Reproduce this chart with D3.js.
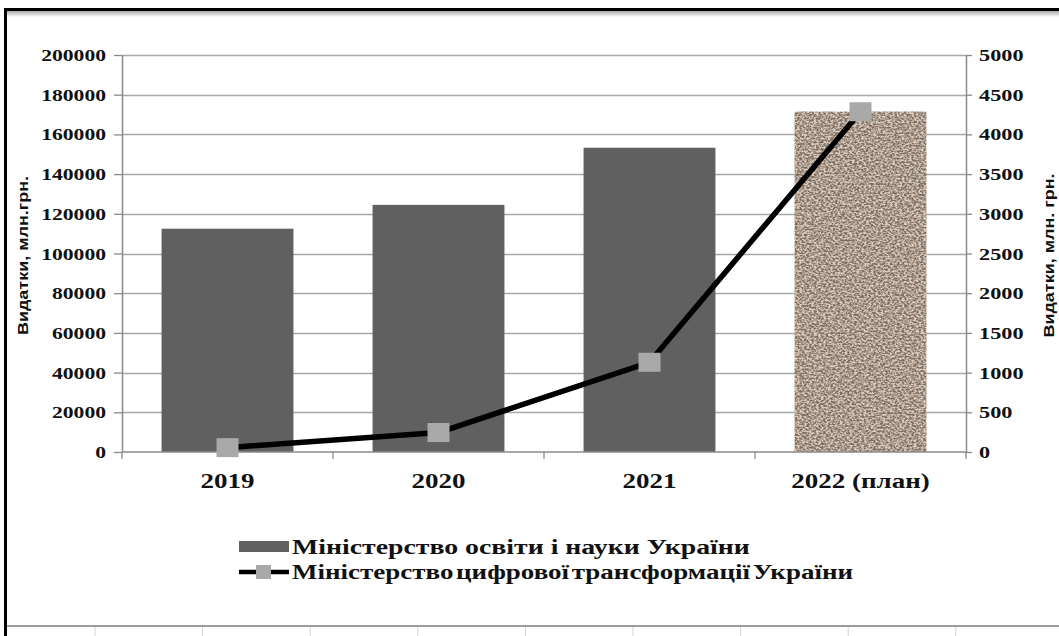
<!DOCTYPE html>
<html>
<head>
<meta charset="utf-8">
<script src="https://cdn.jsdelivr.net/npm/d3@7/dist/d3.min.js"></script>
<style>
  html, body { margin: 0; padding: 0; background: #fff; }
  svg { display: block; }
</style>
</head>
<body>
<svg id="chart" width="1059" height="636"></svg>
<script>
// ---------- data ----------
const categories = ["2019", "2020", "2021", "2022 (план)"];
const educationValues = [112500, 124500, 153300, 171500];   // left axis, bars
const digitalValues = [55, 245, 1130, 4285];                // right axis, line
const leftTicks = [0, 20000, 40000, 60000, 80000, 100000, 120000, 140000, 160000, 180000, 200000];
const rightTicks = [0, 500, 1000, 1500, 2000, 2500, 3000, 3500, 4000, 4500, 5000];
const seriesNames = ["Міністерство освіти і науки України", "Міністерство цифрової трансформації України"];
const leftTitle = "Видатки, млн.грн.";
const rightTitle = "Видатки, млн. грн.";

// ---------- layout ----------
const W = 1059, H = 636;
const plot = { left: 122, right: 966, top: 55, bottom: 452 };
const SX = 1.35;  // horizontal stretch of the text in the reference
const serif = "'Liberation Serif', 'Times New Roman', serif";
const sans = "'Liberation Sans', Arial, sans-serif";
const axisColor = "#8a8a8a", gridColor = "#a8a8a8";

const svg = d3.select("#chart");
const defs = svg.append("defs");

// granite texture for the planned bar
const f = defs.append("filter").attr("id", "granite")
  .attr("x", 0).attr("y", 0).attr("width", 1).attr("height", 1)
  .attr("color-interpolation-filters", "sRGB");
f.append("feTurbulence").attr("type", "fractalNoise")
  .attr("baseFrequency", "0.42 0.55").attr("numOctaves", 2).attr("seed", 7).attr("result", "n");
const ct = f.append("feComponentTransfer").attr("in", "n").attr("result", "c");
ct.append("feFuncR").attr("type", "linear").attr("slope", 3.0).attr("intercept", -1.0);
f.append("feColorMatrix").attr("in", "c").attr("type", "matrix")
  .attr("values", "0.40 0 0 0 0.47  0.38 0 0 0 0.42  0.36 0 0 0 0.38  0 0 0 0 1").attr("result", "col");
f.append("feComposite").attr("in", "col").attr("in2", "SourceGraphic").attr("operator", "in");

const shadow = defs.append("linearGradient").attr("id", "shadow").attr("x1", 0).attr("y1", 0).attr("x2", 0).attr("y2", 1);
shadow.append("stop").attr("offset", "0%").attr("stop-color", "#a8a8a8");
shadow.append("stop").attr("offset", "100%").attr("stop-color", "#ffffff");

// ---------- frame ----------
svg.append("rect").attr("x", 4).attr("y", 11).attr("width", W - 4).attr("height", 6).attr("fill", "url(#shadow)");
svg.append("rect").attr("x", 4).attr("y", 8).attr("width", W - 4).attr("height", 3).attr("fill", "#000");
svg.append("rect").attr("x", 4).attr("y", 8).attr("width", 3).attr("height", H - 8).attr("fill", "#000");
svg.append("rect").attr("x", 7).attr("y", 625).attr("width", W - 7).attr("height", 2).attr("fill", "#9c9c9c");
const cells = d3.range(95, W, 107.6);
svg.selectAll("line.cell").data(cells).join("line").attr("class", "cell")
  .attr("x1", d => d).attr("x2", d => d).attr("y1", 627).attr("y2", H)
  .attr("stroke", "#d2d2d2").attr("stroke-width", 1);

// ---------- scales ----------
const x = d3.scaleBand().domain(categories).range([plot.left, plot.right])
  .paddingInner(0.375).paddingOuter(0.1875);
const yL = d3.scaleLinear().domain([0, 200000]).range([plot.bottom, plot.top]);
const yR = d3.scaleLinear().domain([0, 5000]).range([plot.bottom, plot.top]);

// ---------- gridlines ----------
svg.append("g").selectAll("line").data(leftTicks.filter(d => d > 0)).join("line")
  .attr("x1", plot.left).attr("x2", plot.right)
  .attr("y1", d => Math.round(yL(d)) + 0.5).attr("y2", d => Math.round(yL(d)) + 0.5)
  .attr("stroke", gridColor).attr("stroke-width", 1.3);

// ---------- bars ----------
svg.append("g").selectAll("rect").data(categories).join("rect")
  .attr("x", d => x(d)).attr("width", x.bandwidth())
  .attr("y", (d, i) => yL(educationValues[i]))
  .attr("height", (d, i) => plot.bottom - yL(educationValues[i]))
  .attr("fill", (d, i) => i === categories.length - 1 ? "#a89a8e" : "#606060")
  .attr("filter", (d, i) => i === categories.length - 1 ? "url(#granite)" : null);

// ---------- axes ----------
function styleAxis(g) {
  g.select(".domain").attr("stroke", axisColor).attr("stroke-width", 1.5);
  g.selectAll(".tick line").attr("stroke", axisColor).attr("stroke-width", 1.3);
}
const axL = svg.append("g").attr("transform", `translate(${plot.left},0)`)
  .call(d3.axisLeft(yL).tickValues(leftTicks).tickSize(8).tickSizeOuter(0).tickFormat(d => d));
styleAxis(axL);
axL.selectAll(".tick text").attr("x", null).attr("dy", null)
  .attr("transform", `translate(-16,5.5) scale(${SX},1)`)
  .attr("text-anchor", "end").attr("font-family", serif).attr("font-weight", "bold")
  .attr("font-size", 16).attr("fill", "#111");

const axR = svg.append("g").attr("transform", `translate(${plot.right},0)`)
  .call(d3.axisRight(yR).tickValues(rightTicks).tickSize(6).tickSizeOuter(0).tickFormat(d => d));
styleAxis(axR);
axR.selectAll(".tick text").attr("x", null).attr("dy", null)
  .attr("transform", `translate(13,5.5) scale(${SX},1)`)
  .attr("text-anchor", "start").attr("font-family", serif).attr("font-weight", "bold")
  .attr("font-size", 16.5).attr("fill", "#111");

// x axis
const gap = x.step() - x.bandwidth();
const bounds = categories.map(c => x(c) - gap / 2).concat([x(categories[categories.length - 1]) + x.bandwidth() + gap / 2]);
svg.append("line").attr("x1", plot.left).attr("x2", plot.right)
  .attr("y1", plot.bottom).attr("y2", plot.bottom).attr("stroke", axisColor).attr("stroke-width", 1.5);
svg.append("g").selectAll("line").data(bounds).join("line")
  .attr("x1", d => d).attr("x2", d => d).attr("y1", plot.bottom).attr("y2", plot.bottom + 7)
  .attr("stroke", axisColor).attr("stroke-width", 1.3);
svg.append("g").selectAll("text").data(categories).join("text")
  .attr("transform", d => `translate(${x(d) + x.bandwidth() / 2},488) scale(${SX},1)`)
  .attr("text-anchor", "middle").attr("font-family", serif).attr("font-weight", "bold")
  .attr("font-size", 20).attr("fill", "#111").text(d => d);

// ---------- line series ----------
const cx = d => x(d) + x.bandwidth() / 2;
const lineGen = d3.line().x(d => cx(d.c)).y(d => yR(d.v)).curve(d3.curveLinear);
const pts = categories.map((c, i) => ({ c, v: digitalValues[i] }));
svg.append("path").datum(pts).attr("d", lineGen)
  .attr("fill", "none").attr("stroke", "#000").attr("stroke-width", 5.5)
  .attr("stroke-linejoin", "round").attr("stroke-linecap", "round");
svg.append("g").selectAll("rect").data(pts).join("rect")
  .attr("x", d => cx(d.c) - 11).attr("y", d => yR(d.v) - 9.5)
  .attr("width", 22).attr("height", 19).attr("fill", "#a9a9a9");

// ---------- axis titles ----------
svg.append("text")
  .attr("transform", `translate(28,${(plot.top + plot.bottom) / 2 + 2}) rotate(-90) scale(1.2,1)`)
  .attr("text-anchor", "middle").attr("font-family", sans).attr("font-weight", "bold")
  .attr("font-size", 15).attr("fill", "#111").text(leftTitle);
svg.append("text")
  .attr("transform", `translate(1054,${(plot.top + plot.bottom) / 2 + 2}) rotate(-90) scale(1.2,1)`)
  .attr("text-anchor", "middle").attr("font-family", sans).attr("font-weight", "bold")
  .attr("font-size", 15).attr("fill", "#111").text(rightTitle);

// ---------- legend ----------
const legX = 292;
const leg = svg.append("g");
leg.append("rect").attr("x", legX - 53).attr("y", 541).attr("width", 50).attr("height", 11).attr("fill", "#606060");
leg.append("text").attr("transform", `translate(${legX},554) scale(${SX + 0.04},1)`)
  .attr("font-family", serif).attr("font-weight", "bold").attr("font-size", 20).attr("fill", "#111")
  .text(seriesNames[0]);
leg.append("line").attr("x1", legX - 53).attr("x2", legX - 3).attr("y1", 572).attr("y2", 572)
  .attr("stroke", "#000").attr("stroke-width", 4.5);
leg.append("rect").attr("x", legX - 36).attr("y", 565).attr("width", 15).attr("height", 14).attr("fill", "#a9a9a9");
leg.append("text").attr("transform", `translate(${legX},579) scale(${SX},1)`)
  .attr("font-family", serif).attr("font-weight", "bold").attr("font-size", 20).attr("fill", "#111")
  .attr("word-spacing", -3)
  .text(seriesNames[1]);
</script>
</body>
</html>
